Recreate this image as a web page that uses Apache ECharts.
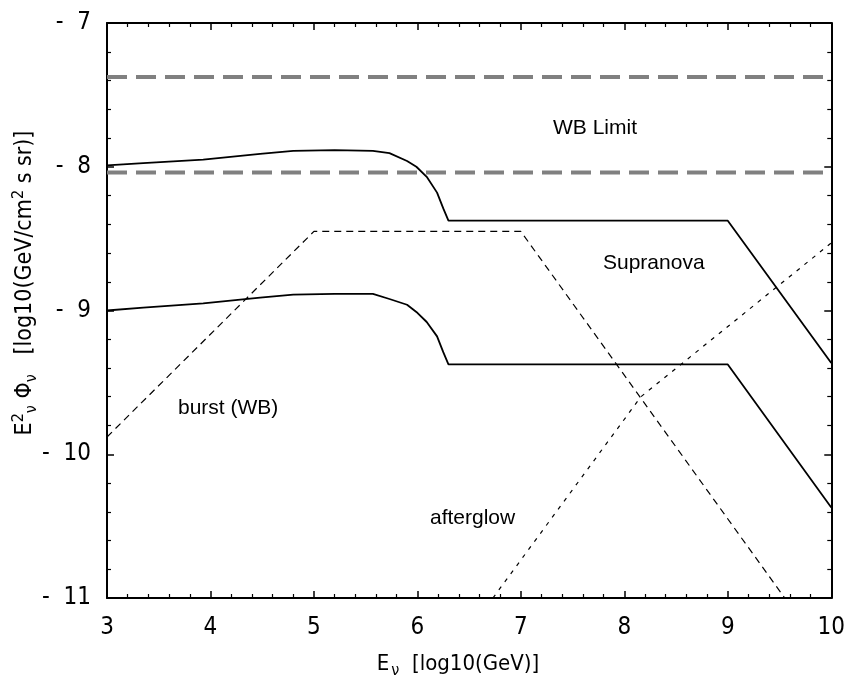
<!DOCTYPE html>
<html>
<head>
<meta charset="utf-8">
<script src="https://cdn.jsdelivr.net/npm/echarts@6/dist/echarts.min.js"></script>
<style>
  html, body { margin: 0; padding: 0; background: #fff; }
  #chart { width: 848px; height: 688px; }
</style>
</head>
<body>
<div id="chart"></div>
<script>
// x: log10(E / GeV), y: log10(E^2 Phi)
const supranovaX = [3, 3.35, 3.93, 4.48, 4.8, 5.2, 5.57, 5.73, 5.9, 5.99, 6.09, 6.19, 6.25, 6.3, 9, 10]
const supranovaY = [-7.99, -7.975, -7.95, -7.91, -7.89, -7.885, -7.89, -7.905, -7.96, -8.0, -8.07, -8.18, -8.29, -8.375, -8.375, -9.365]
const burstSolidY = [-9.0, -8.98, -8.95, -8.91, -8.89, -8.885, -8.885, -8.92, -8.96, -9.01, -9.08, -9.18, -9.29, -9.375, -9.375, -10.37]

const burstWbX = [3, 5, 7, 9.55]
const burstWbY = [-9.88, -8.45, -8.45, -11]

const afterglowX = [6.73, 8.16, 10]
const afterglowY = [-11, -9.6, -8.53]

const wbLimits = [-7.375, -8.04]

const xMin = 3, xMax = 10
const yMin = -11, yMax = -7

const pairs = (xs, ys) => xs.map((x, i) => [x, ys[i]])

const labelFont = "'Liberation Sans Narrow', 'DejaVu Sans Condensed', 'Liberation Sans', sans-serif"
const textFont = "'Liberation Sans', Arial, sans-serif"

const chart = echarts.init(document.getElementById('chart'))

const solid = { color: '#000', width: 1.8 }

const mainX = {
  type: 'value', min: xMin, max: xMax, interval: 1,
  axisLine: { lineStyle: { color: '#000', width: 2 } },
  axisTick: { inside: true, length: 7, lineStyle: { color: '#000', width: 1.5 } },
  minorTick: { show: true, splitNumber: 5, length: 4, lineStyle: { color: '#000', width: 1.2 } },
  splitLine: { show: false },
  axisLabel: { color: '#000', fontSize: 24, fontFamily: labelFont, margin: 18 }
}
const mainY = {
  type: 'value', min: yMin, max: yMax, interval: 1,
  axisLine: { lineStyle: { color: '#000', width: 2 } },
  axisTick: { inside: true, length: 7, lineStyle: { color: '#000', width: 1.5 } },
  minorTick: { show: true, splitNumber: 5, length: 4, lineStyle: { color: '#000', width: 1.2 } },
  splitLine: { show: false },
  axisLabel: {
    color: '#000', fontSize: 24, fontFamily: labelFont, margin: 16,
    formatter: v => '-  ' + Math.abs(v)
  }
}

chart.setOption({
  animation: false,
  backgroundColor: '#fff',
  grid: { left: 107, right: 16, top: 23, bottom: 90 },
  xAxis: [
    mainX,
    Object.assign({}, mainX, { position: 'top', axisLabel: { show: false } })
  ],
  yAxis: [
    mainY,
    Object.assign({}, mainY, { position: 'right', axisLabel: { show: false } })
  ],
  series: [
    ...wbLimits.map(v => ({
      type: 'line', showSymbol: false,
      data: [[xMin, v], [xMax, v]],
      lineStyle: { color: '#808080', width: 4, type: [20, 9] }
    })),
    {
      type: 'line', showSymbol: false,
      data: pairs(supranovaX, supranovaY),
      lineStyle: solid
    },
    {
      type: 'line', showSymbol: false,
      data: pairs(supranovaX, burstSolidY),
      lineStyle: solid
    },
    {
      type: 'line', showSymbol: false,
      data: pairs(burstWbX, burstWbY),
      lineStyle: { color: '#000', width: 1.2, type: [7, 5] }
    },
    {
      type: 'line', showSymbol: false,
      data: pairs(afterglowX, afterglowY),
      lineStyle: { color: '#000', width: 1.2, type: [4, 6] }
    }
  ],
  graphic: [
    { type: 'text', left: 553, top: 118, style: { text: 'WB Limit', font: '21px ' + textFont, fill: '#000' } },
    { type: 'text', left: 603, top: 253, style: { text: 'Supranova', font: '21px ' + textFont, fill: '#000' } },
    { type: 'text', left: 178, top: 398, style: { text: 'burst (WB)', font: '21px ' + textFont, fill: '#000' } },
    { type: 'text', left: 430, top: 508, style: { text: 'afterglow', font: '21px ' + textFont, fill: '#000' } },
    {
      type: 'text', x: 458, y: 664,
      style: {
        text: '{m|E}{s|ν}{m|  [log10(GeV)]}',
        align: 'center', verticalAlign: 'middle',
        rich: {
          m: { fontSize: 22, fontFamily: labelFont, fill: '#000' },
          s: { fontSize: 16, fontFamily: labelFont, fill: '#000', padding: [14, 0, 0, 2] }
        }
      }
    },
    {
      type: 'text', x: 25, y: 283, rotation: Math.PI / 2,
      style: {
        text: '{m|E}{sp|2}{s|ν}{m| Φ}{s|ν}{m|   [log10(GeV/cm}{sp|2}{m| s sr)]}',
        align: 'center', verticalAlign: 'middle',
        rich: {
          m: { fontSize: 23, fontFamily: labelFont, fill: '#000' },
          s: { fontSize: 16, fontFamily: labelFont, fill: '#000', padding: [14, 0, 0, 0] },
          sp: { fontSize: 16, fontFamily: labelFont, fill: '#000', padding: [0, 0, 12, 0] }
        }
      }
    }
  ]
})
</script>
</body>
</html>
